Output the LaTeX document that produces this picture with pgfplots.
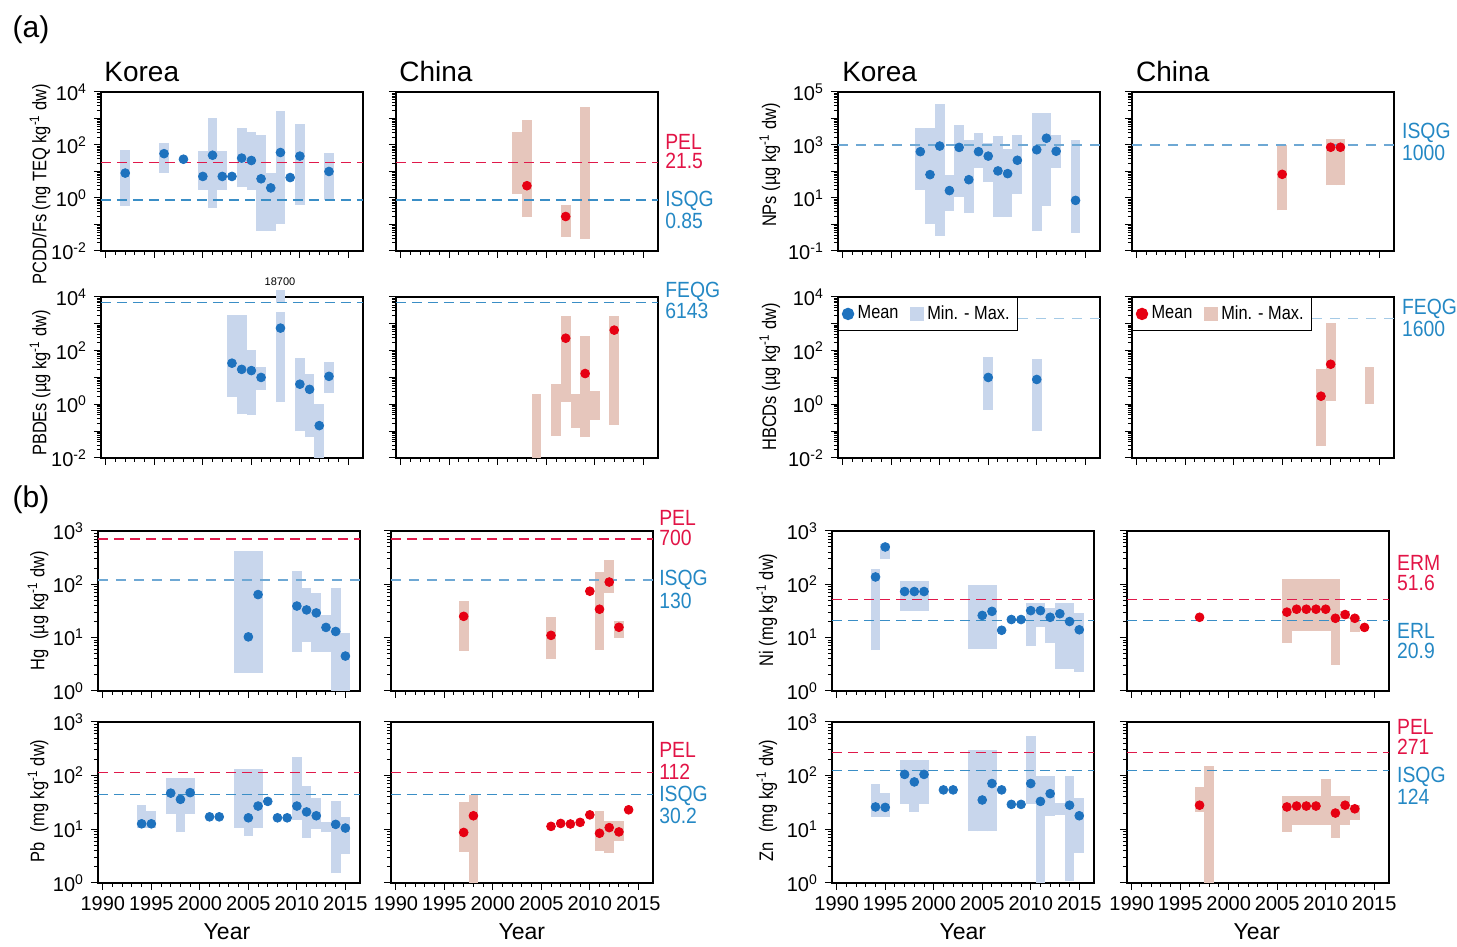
\documentclass[border=0pt]{standalone}
\usepackage{fontspec}
\setmainfont{Liberation Sans}
\usepackage{graphicx}
\usepackage{pgfplots}
\usepackage{pgfplotstable}
\pgfplotsset{compat=1.18}

\definecolor{kfill}{RGB}{200,214,236}
\definecolor{kdot}{RGB}{30,114,190}
\definecolor{cfill}{RGB}{230,198,188}
\definecolor{cdot}{RGB}{230,0,18}
\definecolor{rline}{RGB}{224,25,75}
\definecolor{bline}{RGB}{58,142,198}
\definecolor{lbline}{RGB}{110,168,212}
\definecolor{vlbline}{RGB}{165,202,230}
\definecolor{rtxt}{RGB}{226,20,70}
\definecolor{btxt}{RGB}{36,136,196}

\newcommand{\sz}[1]{\fontsize{#1}{#1}\selectfont}
\newcommand{\sq}{\textsuperscript{-1}}

% ---------- data: bars (x lo hi) and means (x m) ----------
% (a) PCDD/Fs
\pgfplotstableread{
x lo hi
1992 0.5 66
1996 9.1 123
2000 2.0 57
2001 0.42 1040
2002 2.0 57
2004 2.5 445
2005 2.0 309
2006 0.056 230
2007 0.056 8.4
2008 0.1 1870
2010 0.55 600
2013 0.87 52
}\TaB
\pgfplotstableread{
x m
1992 8.7
1996 47
1998 29
2000 6.5
2001 41
2002 6.5
2003 6.5
2004 32
2005 26
2006 5.3
2007 2.4
2008 52
2009 5.9
2010 38
2013 10
}\TaM
\pgfplotstableread{
x lo hi
2002 1.44 309
2003 0.19 850
2007 0.035 0.52
2009 0.028 2700
}\TbB
\pgfplotstableread{
x m
2003 2.9
2007 0.2
}\TbM
% NPs
\pgfplotstableread{
x lo hi
1998 20 4200
1999 1.0 4200
2000 0.38 34000
2001 3.2 76
2002 11 5500
2003 2.7 1500
2004 134 2800
2005 40 1200
2006 1.9 2100
2007 1.9 720
2008 14 2300
2010 0.56 16000
2011 5.0 16000
2012 138 2300
2014 0.48 1600
}\TcB
\pgfplotstableread{
x m
1998 560
1999 76
2000 910
2001 19
2002 810
2003 49
2004 560
2005 380
2006 105
2007 83
2008 265
2010 660
2011 1800
2012 580
2014 8.1
}\TcM
\pgfplotstableread{
x lo hi
2005 3.4 970
2010 30 1700
2011 30 1700
}\TdB
\pgfplotstableread{
x m
2005 78
2010 820
2011 820
}\TdM
% PBDEs
\pgfplotstableread{
x lo hi
2003 1.9 2200
2004 0.42 2200
2005 0.39 107
2006 3.5 24
2008 1.2 2660
2010 0.098 52
2011 0.06 13.4
2012 0.01 1.0
2013 2.7 39
}\TeB
\pgfplotstableread{
x lo hi
2008 6000 18700
}\TeTop
\pgfplotstableread{
x m
2003 34
2004 20
2005 18
2006 10
2008 690
2010 5.6
2011 3.6
2012 0.16
2013 11
}\TeM
\pgfplotstableread{
x lo hi
2004 0.01 2.4
2006 0.065 5.5
2007 1.2 2000
2008 0.13 2.5
2009 0.06 340
2010 0.27 3.1
2012 0.17 2000
}\TfB
\pgfplotstableread{
x m
2007 290
2009 14
2012 580
}\TfM
% HBCDs
\pgfplotstableread{
x lo hi
2005 0.63 56
2010 0.097 47
}\TgB
\pgfplotstableread{
x m
2005 10
2010 8.4
}\TgM
\pgfplotstableread{
x lo hi
2009 0.027 20.5
2010 1.33 1060
2014 1.0 24.5
}\ThB
\pgfplotstableread{
x m
2009 2.0
2010 31
}\ThM
% (b) Hg
\pgfplotstableread{
x lo hi
2004 2.2 420
2005 2.2 420
2006 2.2 420
2010 5.4 175
2011 8.3 85
2012 5.4 69
2013 5.4 26
2014 1 85
2015 1 12
}\TiB
\pgfplotstableread{
x m
2005 10.3
2006 64
2010 39
2011 33
2012 29
2013 15.5
2014 13
2015 4.5
}\TiM
\pgfplotstableread{
x lo hi
1997 5.6 48
2006 3.9 24
2011 5.8 170
2012 69 280
2013 10 20.5
}\TjB
\pgfplotstableread{
x m
1997 25
2006 11
2010 74
2011 34
2012 110
2013 15.6
}\TjM
% Ni
\pgfplotstableread{
x lo hi
1994 5.8 196
1995 302 580
1997 32 114
1998 32 114
1999 32 114
2004 6.2 96
2005 6.2 96
2006 6.2 96
2010 6.9 45
2011 15.5 45
2012 7.9 36
2013 2.6 45
2014 2.6 45
2015 2.3 29
}\TkB
\pgfplotstableread{
x m
1994 137
1995 500
1997 73
1998 73
1999 73
2005 26
2006 31
2007 13.7
2008 21.8
2009 21.8
2010 32
2011 32
2012 24
2013 28
2014 20
2015 14
}\TkM
\pgfplotstableread{
x lo hi
2006 7.9 128
2007 13.2 128
2008 13.2 128
2009 13.2 128
2010 13.2 128
2011 3.1 128
2012 22 31
2013 12.8 25
}\TlB
\pgfplotstableread{
x m
1997 24
2006 30
2007 34
2008 34
2009 34
2010 34
2011 23
2012 27
2013 23
2014 15.5
}\TlM
% Pb
\pgfplotstableread{
x lo hi
1994 10.5 28
1995 10.5 22
1997 19 91
1998 8.7 91
1999 19 91
2004 10.7 134
2005 7.6 134
2006 10.7 134
2010 14.7 218
2011 6.9 65
2012 10 38
2013 8.7 13.5
2014 1.5 34
2015 3.4 16.7
}\TmB
\pgfplotstableread{
x m
1994 12.6
1995 12.6
1997 47
1998 36
1999 48
2001 17
2002 17
2005 16.3
2006 27
2007 33
2008 16.3
2009 16.3
2010 27
2011 21
2012 17.8
2014 12.3
2015 10.5
}\TmM
\pgfplotstableread{
x lo hi
1997 3.8 32
1998 1 43.6
2011 4.0 21.5
2012 3.6 14
2013 5.9 14
}\TnB
\pgfplotstableread{
x m
1997 8.7
1998 17.8
2006 11.3
2007 12.8
2008 12.5
2009 13.4
2010 18.5
2011 8.4
2012 10.7
2013 8.9
2014 23
}\TnM
% Zn
\pgfplotstableread{
x lo hi
1994 17 71
1995 17 48
1997 30 195
1998 21 195
1999 30 195
2004 9.1 300
2005 9.1 300
2006 9.1 300
2010 29 545
2011 1 97
2012 17.5 97
2013 18.6 31
2014 1.1 97
2015 3.6 38
}\ToB
\pgfplotstableread{
x m
1994 26
1995 25.5
1997 105
1998 76
1999 105
2001 54
2002 54
2005 35
2006 71
2007 54
2008 29
2009 29
2010 71
2011 33
2012 46
2014 28
2015 17.8
}\ToM
\pgfplotstableread{
x lo hi
1997 21 60
1998 1 153
2006 8.9 41
2007 12 41
2008 12 41
2009 12 41
2010 12 86
2011 6.8 41
2012 12 41
2013 15 28
}\TpB
\pgfplotstableread{
x m
1997 28
2006 26
2007 27
2008 27
2009 27
2011 20
2012 28
2013 24
}\TpM

\pgfplotsset{
  mypanel/.style={
    scale only axis, width=131pt, anchor=north west,
    xmin=1989.5, xmax=2016.5, clip=false,
    xtick={1990,1995,2000,2005,2010,2015}, minor x tick num=4,
    xticklabels={}, tick pos=left, tick align=outside,
    major tick length=3.5pt, minor tick length=2pt,
    axis line style={line width=0.75pt},
    every tick/.append style={black, line width=0.5pt},
    tick label style={font=\sz{10}},
  },
  yearlab/.style={xticklabels={1990,1995,2000,2005,2010,2015}},
  dsix/.style={ymin=1e-2, ymax=1e4, ytick={1e-2,1e-1,1,10,100,1000,1e4}, yticklabels={}},
  dsixlab/.style={dsix, yticklabels={10\textsuperscript{-2},,10\textsuperscript{0},,10\textsuperscript{2},,10\textsuperscript{4}}},
  dnp/.style={ymin=1e-1, ymax=1e5, ytick={1e-1,1,10,100,1000,1e4,1e5}, yticklabels={}},
  dnplab/.style={dnp, yticklabels={10\textsuperscript{-1},,10\textsuperscript{1},,10\textsuperscript{3},,10\textsuperscript{5}}},
  dthree/.style={ymin=1, ymax=1000, ytick={1,10,100,1000}, yticklabels={}},
  dthreelab/.style={dthree, yticklabels={10\textsuperscript{0},10\textsuperscript{1},10\textsuperscript{2},10\textsuperscript{3}}},
  kbar/.style={forget plot, draw=none, mark=none,
    error bars/y dir=plus, error bars/y explicit, error bars/error mark=none,
    error bars/error bar style={draw=kfill, solid, line width=4.85pt, line cap=butt}},
  cbar/.style={forget plot, draw=none, mark=none,
    error bars/y dir=plus, error bars/y explicit, error bars/error mark=none,
    error bars/error bar style={draw=cfill, solid, line width=4.85pt, line cap=butt}},
  kdots/.style={forget plot, only marks, mark=*, mark size=2.2pt, color=kdot},
  cdots/.style={forget plot, only marks, mark=*, mark size=2.2pt, color=cdot},
  redl/.style={forget plot, rline, line width=0.75pt, dash pattern=on 5pt off 3pt},
  bluel/.style={forget plot, bline, line width=0.75pt, dash pattern=on 5pt off 3pt},
  lbluel/.style={forget plot, lbline, line width=0.6pt, dash pattern=on 5pt off 4pt},
  vlbluel/.style={forget plot, vlbline, line width=0.7pt, dash pattern=on 5pt off 4pt},
  legbox/.style={legend style={at={(0,1)}, anchor=north west, draw=black, line width=0.6pt,
    fill=white, legend columns=2, font=\sz{9.5}, inner sep=2pt,
    /tikz/every even column/.append style={column sep=4pt}}, legend cell align=left},
}

\newcommand{\bars}[2]{\addplot[#1] table[x=x,y=lo,y error expr=\thisrow{hi}-\thisrow{lo}]{#2};}
\newcommand{\guide}[2]{\addplot[#1] coordinates {(1989.5,#2)(2016.5,#2)};}
\newcommand{\nar}[1]{\scalebox{0.86}[1]{#1}}

\begin{document}
\begin{tikzpicture}
\begin{scope}[x=0.5pt,y=-0.5pt]
\path[use as bounding box] (0,0) rectangle (1457,946);
\end{scope}

% ===== row 1 =====
\begin{semilogyaxis}[mypanel, dsixlab, height=79.5pt, at={(50.5pt,-46pt)}]
\bars{kbar}{\TaB}
\guide{redl}{21.5}
\guide{bluel}{0.85}
\addplot[kdots] table[x=x,y=m]{\TaM};
\end{semilogyaxis}
\begin{semilogyaxis}[mypanel, dsix, height=79.5pt, at={(198pt,-46pt)}]
\bars{cbar}{\TbB}
\guide{redl}{21.5}
\guide{bluel}{0.85}
\addplot[cdots] table[x=x,y=m]{\TbM};
\end{semilogyaxis}
\begin{semilogyaxis}[mypanel, dnplab, height=79.5pt, at={(419pt,-46pt)}]
\bars{kbar}{\TcB}
\guide{lbluel}{1000}
\addplot[kdots] table[x=x,y=m]{\TcM};
\end{semilogyaxis}
\begin{semilogyaxis}[mypanel, dnp, height=79.5pt, at={(566pt,-46pt)}]
\bars{cbar}{\TdB}
\guide{lbluel}{1000}
\addplot[cdots] table[x=x,y=m]{\TdM};
\end{semilogyaxis}

% ===== row 2 =====
\begin{semilogyaxis}[mypanel, dsixlab, height=80.5pt, at={(50.5pt,-148.5pt)}]
\bars{kbar}{\TeB}
\bars{kbar}{\TeTop}
\guide{bluel}{6143}
\addplot[kdots] table[x=x,y=m]{\TeM};
\end{semilogyaxis}
\begin{semilogyaxis}[mypanel, dsix, height=80.5pt, at={(198pt,-148.5pt)}]
\bars{cbar}{\TfB}
\guide{bluel}{6143}
\addplot[cdots] table[x=x,y=m]{\TfM};
\end{semilogyaxis}
\begin{semilogyaxis}[mypanel, dsixlab, height=80.5pt, at={(419pt,-148.5pt)}, legbox]
\bars{kbar}{\TgB}
\guide{vlbluel}{1600}
\addplot[kdots] table[x=x,y=m]{\TgM};
\addlegendimage{only marks, mark=*, mark size=2.8pt, kdot}
\addlegendentry{\nar{Mean}}
\addlegendimage{only marks, mark=square*, mark size=3.2pt, kfill}
\addlegendentry{\nar{Min. - Max.}}
\end{semilogyaxis}
\begin{semilogyaxis}[mypanel, dsix, height=80.5pt, at={(566pt,-148.5pt)}, legbox]
\bars{cbar}{\ThB}
\guide{vlbluel}{1600}
\addplot[cdots] table[x=x,y=m]{\ThM};
\addlegendimage{only marks, mark=*, mark size=2.8pt, cdot}
\addlegendentry{\nar{Mean}}
\addlegendimage{only marks, mark=square*, mark size=3.2pt, cfill}
\addlegendentry{\nar{Min. - Max.}}
\end{semilogyaxis}

% ===== row 3 =====
\begin{semilogyaxis}[mypanel, dthreelab, height=80pt, at={(49pt,-265.5pt)}]
\bars{kbar}{\TiB}
\guide{redl}{700}
\guide{lbluel}{120}
\addplot[kdots] table[x=x,y=m]{\TiM};
\end{semilogyaxis}
\begin{semilogyaxis}[mypanel, dthree, height=80pt, at={(195.5pt,-265.5pt)}]
\bars{cbar}{\TjB}
\guide{redl}{700}
\guide{lbluel}{120}
\addplot[cdots] table[x=x,y=m]{\TjM};
\end{semilogyaxis}
\begin{semilogyaxis}[mypanel, dthreelab, height=80pt, at={(416pt,-265.5pt)}]
\bars{kbar}{\TkB}
\guide{redl}{51.6}
\guide{bluel}{20.9}
\addplot[kdots] table[x=x,y=m]{\TkM};
\end{semilogyaxis}
\begin{semilogyaxis}[mypanel, dthree, height=80pt, at={(563.5pt,-265.5pt)}]
\bars{cbar}{\TlB}
\guide{redl}{51.6}
\guide{bluel}{20.9}
\addplot[cdots] table[x=x,y=m]{\TlM};
\end{semilogyaxis}

% ===== row 4 =====
\begin{semilogyaxis}[mypanel, dthreelab, yearlab, height=80.5pt, at={(49pt,-361pt)}]
\bars{kbar}{\TmB}
\guide{redl}{114}
\guide{bluel}{44}
\addplot[kdots] table[x=x,y=m]{\TmM};
\end{semilogyaxis}
\begin{semilogyaxis}[mypanel, dthree, yearlab, height=80.5pt, at={(195.5pt,-361pt)}]
\bars{cbar}{\TnB}
\guide{redl}{114}
\guide{bluel}{44}
\addplot[cdots] table[x=x,y=m]{\TnM};
\end{semilogyaxis}
\begin{semilogyaxis}[mypanel, dthreelab, yearlab, height=80.5pt, at={(416pt,-361pt)}]
\bars{kbar}{\ToB}
\guide{redl}{271}
\guide{bluel}{124}
\addplot[kdots] table[x=x,y=m]{\ToM};
\end{semilogyaxis}
\begin{semilogyaxis}[mypanel, dthree, yearlab, height=80.5pt, at={(563.5pt,-361pt)}]
\bars{cbar}{\TpB}
\guide{redl}{271}
\guide{bluel}{124}
\addplot[cdots] table[x=x,y=m]{\TpM};
\end{semilogyaxis}

% ===== text =====
\begin{scope}[x=0.5pt,y=-0.5pt]
\node[font=\sz{15}] at (31,30) {(a)};
\node[font=\sz{15}] at (31,500) {(b)};
\node[font=\sz{14}, anchor=west, inner sep=0] at (104,72) {Korea};
\node[font=\sz{14}, anchor=west, inner sep=0] at (399,72) {China};
\node[font=\sz{14}, anchor=west, inner sep=0] at (842,72) {Korea};
\node[font=\sz{14}, anchor=west, inner sep=0] at (1136,72) {China};
\foreach \xx in {227,522,963,1257} {\node[font=\sz{11.5}] at (\xx,932) {Year};}
\node[font=\sz{5.5}] at (280,282) {18700};
% y labels
\foreach \xx/\yy/\tt in {
  40/184/{PCDD/Fs (ng TEQ kg\sq\ dw)},
  40/383/{PBDEs (µg kg\sq\ dw)},
  38/611/{Hg\hspace{0.6em}(µg kg\sq\ dw)},
  38/801/{Pb\hspace{0.6em}(mg kg\sq\ dw)},
  770/165/{NPs (µg kg\sq\ dw)},
  770/377/{HBCDs (µg kg\sq\ dw)},
  767/610/{Ni (mg kg\sq\ dw)},
  767/801/{Zn\hspace{0.6em}(mg kg\sq\ dw)}}
  {\node[rotate=90, font=\sz{9.8}, inner sep=0] at (\xx,\yy) {\scalebox{0.84}[1]{\tt}};}
% guideline labels
\foreach \xx/\yy/\cc/\tt in {
  665/142/rtxt/PEL, 665/161/rtxt/21.5, 665/201/btxt/ISQG, 665/221/btxt/0.85,
  1402/133/btxt/ISQG, 1402/153/btxt/1000,
  665/292/btxt/FEQG, 665/311/btxt/6143,
  1402/309/btxt/FEQG, 1402/329/btxt/1600,
  659/518/rtxt/PEL, 659/538/rtxt/700, 659/580/btxt/ISQG, 659/601/btxt/130,
  1397/563/rtxt/ERM, 1397/583/rtxt/51.6, 1397/631/btxt/ERL, 1397/651/btxt/20.9,
  659/750/rtxt/PEL, 659/772/rtxt/112, 659/796/btxt/ISQG, 659/816/btxt/30.2,
  1397/727/rtxt/PEL, 1397/747/rtxt/271, 1397/777/btxt/ISQG, 1397/797/btxt/124}
  {\node[anchor=west, text=\cc, font=\sz{11}, inner sep=0] at (\xx,\yy) {\scalebox{0.88}[1]{\tt}};}
\end{scope}
\end{tikzpicture}
\end{document}
